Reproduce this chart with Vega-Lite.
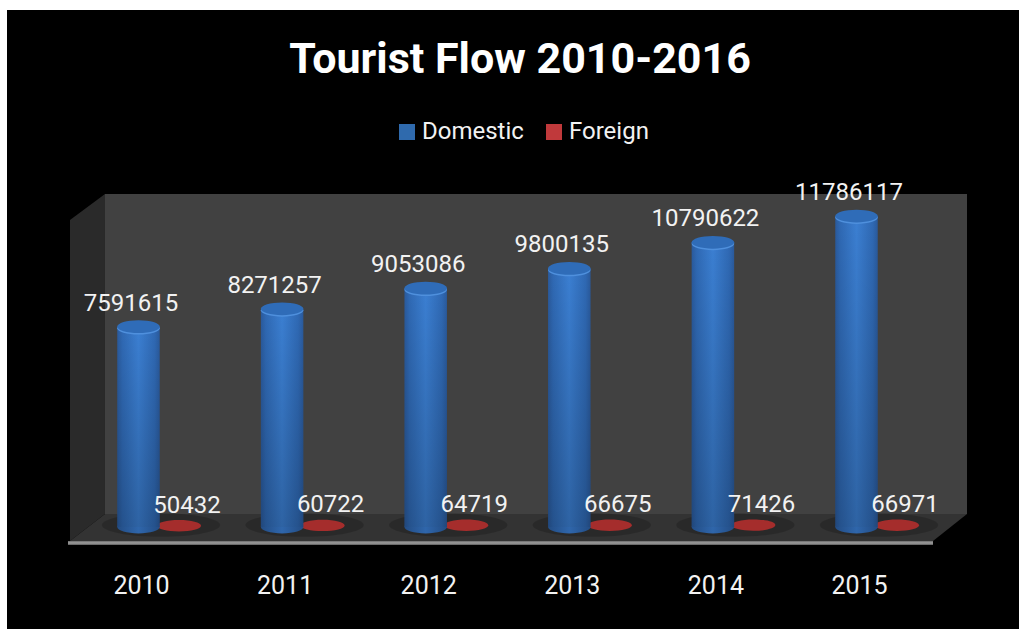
{
"$schema":"https://vega.github.io/schema/vega-lite/v6.json",
"width":1012,"height":619,
"autosize":{"type":"none"},
"padding":{"left":7,"top":10,"right":0,"bottom":0},
"background":"#ffffff",
"view":{"fill":"#000000","stroke":null},
"title":{"text":"Tourist Flow 2010-2016","orient":"top","anchor":"middle","dx":7,"offset":-106,"baseline":"alphabetic","color":"#ffffff","font":"Roboto","fontWeight":"bold","fontSize":43},
"datasets":{
"flow":[
{"year":2010,"Domestic":7591615,"Foreign":50432},
{"year":2011,"Domestic":8271257,"Foreign":60722},
{"year":2012,"Domestic":9053086,"Foreign":64719},
{"year":2013,"Domestic":9800135,"Foreign":66675},
{"year":2014,"Domestic":10790622,"Foreign":71426},
{"year":2015,"Domestic":11786117,"Foreign":66971}],
"series":[{"series":"Domestic"},{"series":"Foreign"}],
"wall":[{"year":2009.7493,"low":492700,"high":12620700},{"year":2015.7521,"low":492700,"high":12620700}],
"side":[{"year":2009.5056,"low":-530600,"high":11635300},{"year":2009.7493,"low":492700,"high":12620700}],
"floor":[{"year":2009.5056,"low":-530600,"high":-530600},{"year":2009.7493,"low":-530600,"high":492700},{"year":2015.5153,"low":-530600,"high":492700},{"year":2015.7521,"low":492700,"high":492700}],
"lip":[{"year":2009.4916,"low":-682200,"high":-530600},{"year":2015.5153,"low":-682200,"high":-530600}]
},
"layer":[
{"data":{"name":"wall"},"mark":{"type":"area","orient":"vertical","color":"#414141"},
 "encoding":{"x":{"field":"year","type":"quantitative","scale":{"domain":[2009.0669,2016.1142],"nice":false,"zero":false,"padding":0},
   "axis":{"values":[2010,2011,2012,2013,2014,2015],"format":"d","title":null,"domain":false,"ticks":false,"grid":false,"labelColor":"#f2f2f2","labelFont":"Roboto","labelFontSize":25,"labelBaseline":"alphabetic","labelPadding":0,"offset":-36,"labelFlush":false,"labelBound":false,"labelOverlap":false}},
  "y":{"field":"low","type":"quantitative","stack":null,"scale":{"domain":[-3865800,19594300],"nice":false,"zero":false},"axis":null},
  "y2":{"field":"high"}}},
{"data":{"name":"side"},"mark":{"type":"area","orient":"vertical","color":"#2a2a2a"},
 "encoding":{"x":{"field":"year","type":"quantitative"},"y":{"field":"low","type":"quantitative","stack":null},"y2":{"field":"high"}}},
{"data":{"name":"floor"},"mark":{"type":"area","orient":"vertical","color":"#333333"},
 "encoding":{"x":{"field":"year","type":"quantitative"},"y":{"field":"low","type":"quantitative","stack":null},"y2":{"field":"high"}}},
{"data":{"name":"lip"},"mark":{"type":"area","orient":"vertical","color":{"gradient":"linear","x1":0,"x2":0,"y1":0,"y2":1,"stops":[{"offset":0,"color":"#6a6a6a"},{"offset":0.5,"color":"#a0a0a0"},{"offset":1,"color":"#5a5a5a"}]}},
 "encoding":{"x":{"field":"year","type":"quantitative"},"y":{"field":"low","type":"quantitative","stack":null},"y2":{"field":"high"}}},
{"data":{"name":"flow"},"mark":{"type":"point","filled":true,"opacity":0.18,"color":"#000000","shape":"M-1,0A1,0.2 0 1 1 1,0A1,0.2 0 1 1 -1,0Z","size":14000,"xOffset":20,"yOffset":-2},
 "encoding":{"x":{"field":"year","type":"quantitative"},"y":{"datum":0}}},
{"data":{"name":"flow"},"mark":{"type":"point","filled":true,"opacity":1,"color":"#a52d2c","shape":"M-1,0A1,0.26 0 1 1 1,0A1,0.26 0 1 1 -1,0Z","size":1936,"xOffset":38},
 "encoding":{"x":{"field":"year","type":"quantitative"},"y":{"field":"Foreign","type":"quantitative"}}},
{"data":{"name":"flow"},"mark":{"type":"point","filled":true,"opacity":1,"color":{"gradient":"linear","x1":0,"x2":1,"y1":0,"y2":0,"stops":[{"offset":0,"color":"#234d85"},{"offset":0.5,"color":"#2f66ab"},{"offset":1,"color":"#234d85"}]},"shape":"M-1,0A1,0.3 0 1 1 1,0A1,0.3 0 1 1 -1,0Z","size":1806,"xOffset":-2.5},
 "encoding":{"x":{"field":"year","type":"quantitative"},"y":{"datum":0}}},
{"data":{"name":"flow"},"mark":{"type":"bar","orient":"vertical","size":42.5,"xOffset":-2.5,"color":{"gradient":"linear","x1":0,"x2":1,"y1":0,"y2":0,"stops":[{"offset":0,"color":"#2a5a9c"},{"offset":0.12,"color":"#2f69b4"},{"offset":0.5,"color":"#3b7fd2"},{"offset":0.88,"color":"#2f69b4"},{"offset":1,"color":"#2a5a9c"}]}},
 "encoding":{"x":{"field":"year","type":"quantitative"},"y":{"field":"Domestic","type":"quantitative","stack":null}}},
{"data":{"name":"flow"},"mark":{"type":"bar","orient":"vertical","size":42.5,"xOffset":-2.5,"color":{"gradient":"linear","x1":0,"x2":0,"y1":0,"y2":1,"stops":[{"offset":0,"color":"rgba(0,0,0,0)"},{"offset":1,"color":"rgba(0,0,0,0.22)"}]}},
 "encoding":{"x":{"field":"year","type":"quantitative"},"y":{"field":"Domestic","type":"quantitative","stack":null}}},
{"data":{"name":"flow"},"mark":{"type":"point","filled":true,"opacity":1,"color":"#4f90dd","shape":"M-1,0A1,0.3 0 1 1 1,0A1,0.3 0 1 1 -1,0Z","size":1806,"xOffset":-2.5,"yOffset":1.5},
 "encoding":{"x":{"field":"year","type":"quantitative"},"y":{"field":"Domestic","type":"quantitative"}}},
{"data":{"name":"flow"},"mark":{"type":"point","filled":true,"opacity":1,"color":"#2f6cb8","shape":"M-1,0A1,0.3 0 1 1 1,0A1,0.3 0 1 1 -1,0Z","size":1806,"xOffset":-2.5},
 "encoding":{"x":{"field":"year","type":"quantitative"},"y":{"field":"Domestic","type":"quantitative"}}},
{"data":{"name":"flow"},"mark":{"type":"text","color":"#f2f2f2","font":"Roboto","fontSize":24,"baseline":"alphabetic","align":"center","dx":-10,"dy":-16},
 "encoding":{"x":{"field":"year","type":"quantitative"},"y":{"field":"Domestic","type":"quantitative"},"text":{"field":"Domestic","type":"quantitative","format":"d"}}},
{"data":{"name":"flow"},"mark":{"type":"text","color":"#f2f2f2","font":"Roboto","fontSize":24,"baseline":"alphabetic","align":"center","dx":46,"dy":-13},
 "encoding":{"x":{"field":"year","type":"quantitative"},"y":{"field":"Foreign","type":"quantitative"},"text":{"field":"Foreign","type":"quantitative","format":"d"}}},
{"data":{"name":"series"},"mark":{"type":"point","filled":true,"opacity":0},
 "encoding":{"x":{"datum":2010},"y":{"datum":0},
  "color":{"field":"series","type":"nominal","scale":{"domain":["Domestic","Foreign"],"range":["#2f6aad","#c0393b"]},
   "legend":{"title":null,"orient":"none","legendX":388,"legendY":110,"direction":"horizontal","symbolType":"square","symbolSize":256,"symbolOpacity":1,"symbolStrokeWidth":0,"labelColor":"#f2f2f2","labelFont":"Roboto","labelFontSize":24,"labelOffset":3,"columnPadding":18}}}}
]
}
